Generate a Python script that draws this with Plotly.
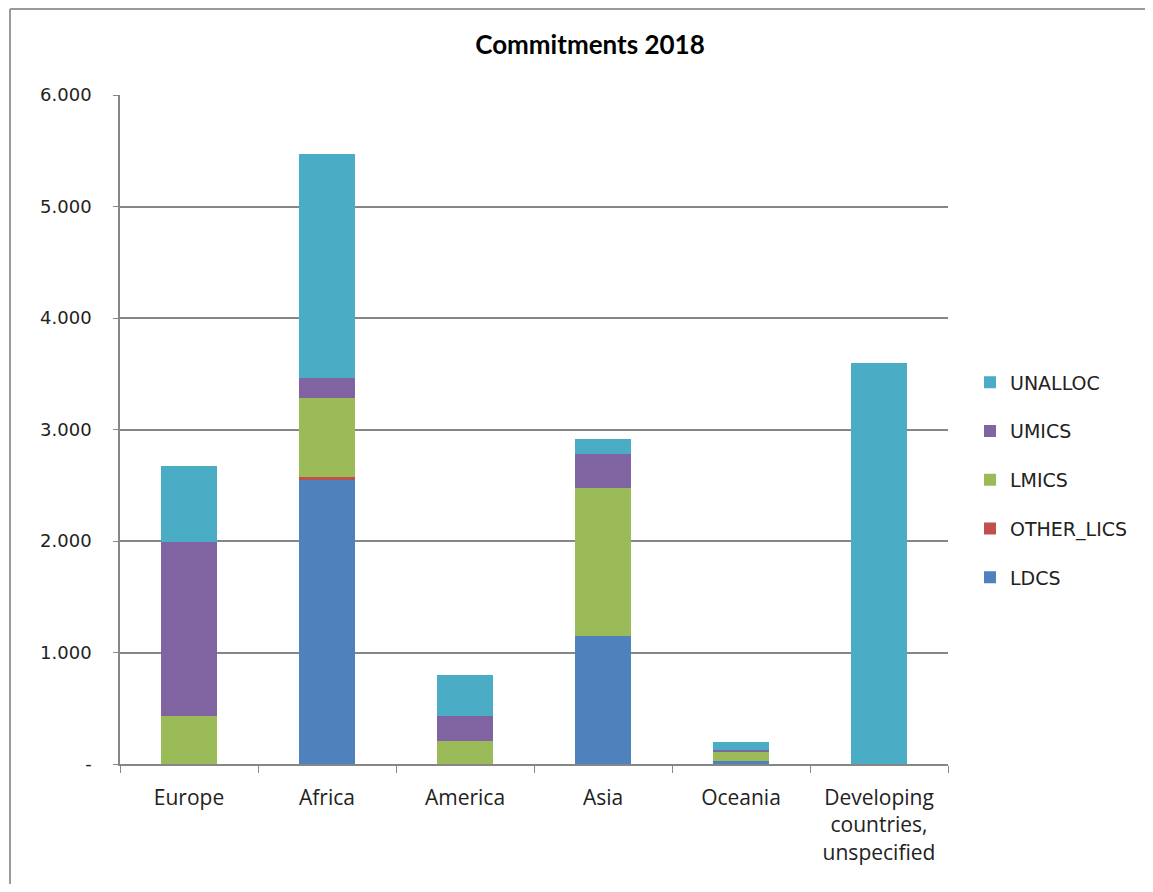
import plotly.graph_objects as go

categories = ["Europe", "Africa", "America", "Asia", "Oceania",
              "Developing<br>countries,<br>unspecified"]
ldcs = [0, 2550, 0, 1146, 25, 0]
other_lics = [0, 20, 0, 0, 0, 0]
lmics = [435, 715, 202, 1326, 85, 0]
umics = [1560, 180, 232, 304, 18, 0]
unalloc = [678, 2005, 364, 140, 72, 3600]

series = [
    ("LDCS", ldcs, "#4F81BD"),
    ("OTHER_LICS", other_lics, "#C0504D"),
    ("LMICS", lmics, "#9BBB59"),
    ("UMICS", umics, "#8064A2"),
    ("UNALLOC", unalloc, "#4BACC6"),
]

tick_vals = [0, 1000, 2000, 3000, 4000, 5000, 6000]
tick_text = ["-", "1.000", "2.000", "3.000", "4.000", "5.000", "6.000"]

fig = go.Figure()
n = len(series)
for i, (name, vals, color) in enumerate(series):
    fig.add_trace(go.Bar(
        x=categories, y=vals, name=name, legendgroup=name,
        legendrank=n - i,
        marker=dict(color=color, line=dict(width=0)),
    ))

OFF = 8  # page body margin
W, H = 1153 - 2 * OFF, 892 - 2 * OFF
PL, PR, PT, PB = 120, 948, 95, 764  # plot area in reference pixels
L = PL - OFF
T = PT - OFF
pw = PR - PL
ph = PB - PT
R = W - L - pw
B = H - T - ph


def px_x(p):
    return (p - PL) / pw


def px_y(p):
    return 1 - (p - PT) / ph


fig.update_layout(
    width=W, height=H,
    margin=dict(l=L, r=R, t=T, b=B, autoexpand=False),
    barmode="stack",
    bargap=0.59,
    plot_bgcolor="white",
    paper_bgcolor="white",
    title=dict(text="<b>Commitments 2018</b>", x=px_x(590), xanchor="center",
               xref="paper", yref="container", y=1 - (45 - OFF) / H,
               yanchor="middle",
               font=dict(family="Lato, Carlito, sans-serif", size=26, color="#000")),
    legend=dict(traceorder="grouped", tracegroupgap=21,
                x=px_x(970), xanchor="left", y=px_y(480), yanchor="middle",
                font=dict(family="DejaVu Sans", size=19, color="#222"),
                itemwidth=30, bgcolor="rgba(0,0,0,0)"),
    xaxis=dict(showline=True, linecolor="#868686", linewidth=1.5,
               ticks="outside", tickson="boundaries", ticklen=7,
               tickcolor="#868686", ticklabelstandoff=14,
               tickfont=dict(family="Open Sans, sans-serif", size=21, color="#222"),
               showgrid=False),
    yaxis=dict(range=[0, 6000], tickvals=tick_vals, ticktext=tick_text,
               showline=True, linecolor="#868686", linewidth=1.5,
               ticks="outside", ticklen=5, tickcolor="#868686",
               ticklabelstandoff=18,
               showgrid=True, gridcolor="#868686", gridwidth=1.5,
               tickfont=dict(family="DejaVu Sans", size=18, color="#222"),
               zeroline=False),
    shapes=[
        dict(type="line", xref="paper", yref="paper",
             x0=px_x(10), x1=px_x(10), y0=px_y(9), y1=px_y(900),
             line=dict(color="#9a9a9a", width=2)),
        dict(type="line", xref="paper", yref="paper",
             x0=px_x(10), x1=px_x(1160), y0=px_y(9), y1=px_y(9),
             line=dict(color="#9a9a9a", width=2)),
    ],
)

fig.write_html("out.html")
